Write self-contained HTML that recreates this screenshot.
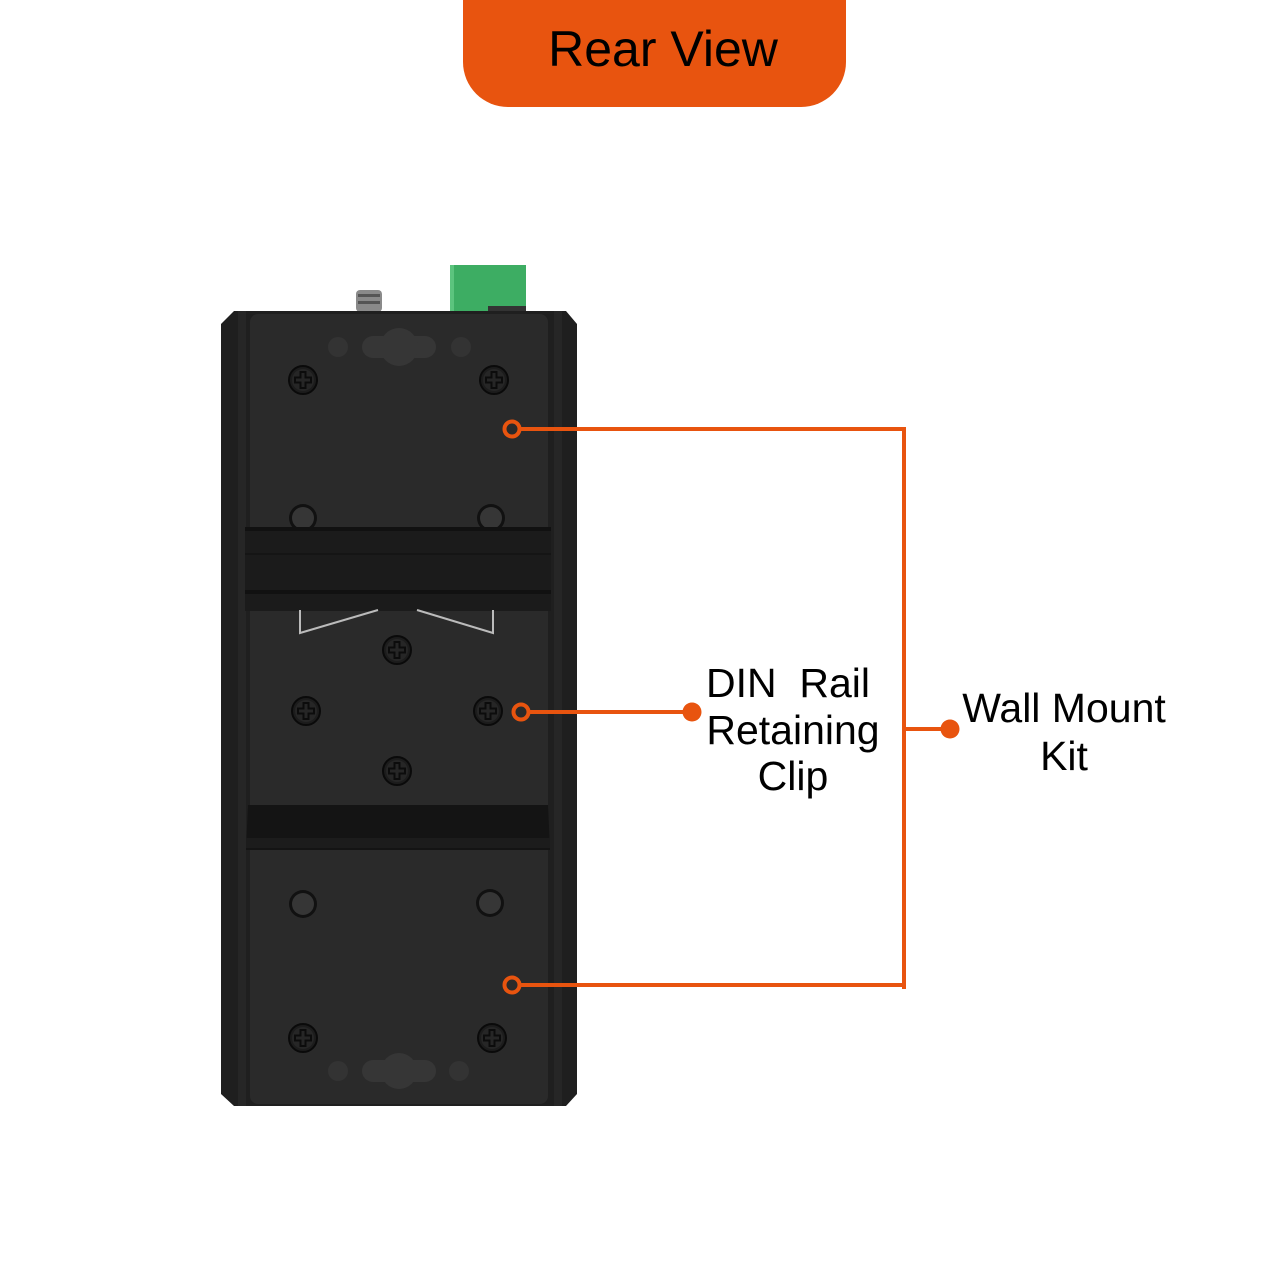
<!DOCTYPE html>
<html><head><meta charset="utf-8"><style>
html,body{margin:0;padding:0;background:#fff;width:1280px;height:1280px;overflow:hidden}
svg{display:block}
text{font-family:"Liberation Sans",sans-serif;fill:#000}
</style></head><body>
<svg width="1280" height="1280" viewBox="0 0 1280 1280" xmlns="http://www.w3.org/2000/svg">
<defs>
<g id="scr"><circle r="14" fill="#1c1c1c" stroke="#0a0a0a" stroke-width="2"/><circle r="11" fill="#262626"/><path d="M-2.5,-8h5v5.5h5.5v5h-5.5v5.5h-5v-5.5h-5.5v-5h5.5z" fill="none" stroke="#0c0c0c" stroke-width="2"/></g>
<g id="peg"><circle r="14" fill="#111"/><circle r="11" fill="#363636"/></g>
</defs>
<path d="M463,0H846V62A45,45 0 0 1 801,107H508A45,45 0 0 1 463,62Z" fill="#E8540F"/>
<text x="663" y="66" font-size="50" text-anchor="middle">Rear View</text>
<rect x="356" y="290" width="26" height="22" rx="4" fill="#8a8a8a"/>
<rect x="358" y="294" width="22" height="3" fill="#555"/><rect x="358" y="301" width="22" height="3" fill="#555"/>
<rect x="450" y="265" width="76" height="47" fill="#3dad63"/>
<rect x="450" y="265" width="4" height="47" fill="#5cc47e"/>
<rect x="488" y="306" width="38" height="6" fill="#333"/>
<path d="M234,311H566L577,324V1094L566,1106H234L221,1094V324Z" fill="#1f1f1f"/>
<rect x="238" y="311" width="8" height="795" fill="#262626"/>
<rect x="554" y="311" width="8" height="795" fill="#262626"/>
<rect x="250" y="314" width="298" height="790" rx="8" fill="#2a2a2a"/>
<circle cx="338" cy="347" r="10" fill="#333"/><circle cx="461" cy="347" r="10" fill="#333"/>
<rect x="362" y="336" width="74" height="22" rx="11" fill="#363636"/><circle cx="399" cy="347" r="19" fill="#363636"/>
<use href="#scr" x="303" y="380"/><use href="#scr" x="494" y="380"/>
<use href="#peg" x="303" y="518"/><use href="#peg" x="491" y="518"/>
<rect x="245" y="527" width="306" height="84" fill="#1b1b1b"/>
<rect x="245" y="527" width="306" height="4" fill="#111"/>
<rect x="245" y="553" width="306" height="2" fill="#151515"/>
<rect x="245" y="590" width="306" height="4" fill="#111"/>
<rect x="250" y="611" width="298" height="195" fill="#2a2a2a"/>
<path d="M300,610V633L378,610M417,610L493,633V610" fill="none" stroke="#bbb" stroke-width="2"/>
<use href="#scr" x="397" y="650"/><use href="#scr" x="306" y="711"/><use href="#scr" x="488" y="711"/><use href="#scr" x="397" y="771"/>
<path d="M248,805H548L550,850H246Z" fill="#141414"/>
<rect x="246" y="838" width="304" height="10" fill="#1c1c1c"/>
<use href="#peg" x="303" y="904"/><use href="#peg" x="490" y="903"/>
<use href="#scr" x="303" y="1038"/><use href="#scr" x="492" y="1038"/>
<circle cx="338" cy="1071" r="10" fill="#333"/><circle cx="459" cy="1071" r="10" fill="#333"/>
<rect x="362" y="1060" width="74" height="22" rx="11" fill="#363636"/><circle cx="399" cy="1071" r="18" fill="#363636"/>
<g stroke="#E8540F" stroke-width="4" fill="none">
<path d="M520,429H904V989M520,985H904M904,729H948"/>
<path d="M529,712H692"/>
<circle cx="512" cy="429" r="7.5"/><circle cx="512" cy="985" r="7.5"/><circle cx="521" cy="712" r="7.5"/>
</g>
<circle cx="692" cy="712" r="9.5" fill="#E8540F"/>
<circle cx="950" cy="729" r="9.5" fill="#E8540F"/>
<g font-size="41" text-anchor="middle">
<text x="788" y="697" xml:space="preserve">DIN  Rail</text>
<text x="793" y="744">Retaining</text>
<text x="793" y="790">Clip</text>
<text x="1064" y="722">Wall Mount</text>
<text x="1064" y="770">Kit</text>
</g>
</svg>
</body></html>
